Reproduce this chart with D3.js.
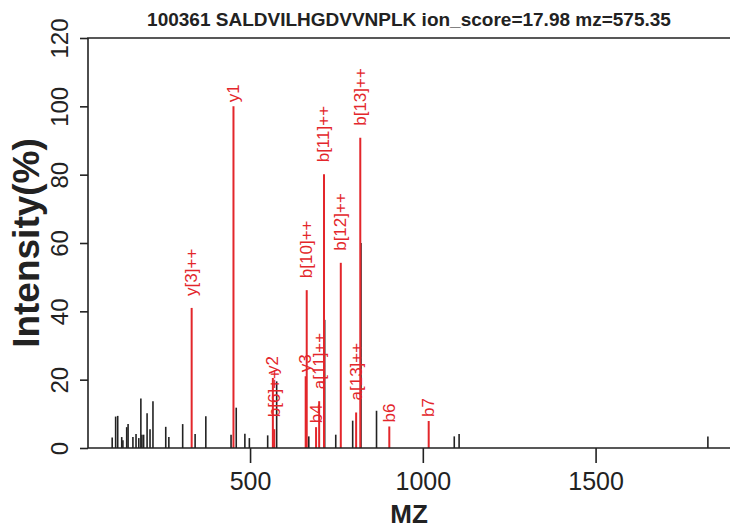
<!DOCTYPE html>
<meta charset="utf-8">
<title>Spectrum</title>
<style>
  body { margin: 0; background: #fff; }
  text { font-family: "Liberation Sans", Arial, sans-serif; fill: #222; }
</style>
<body>
<script src="https://d3js.org/d3.v7.min.js"></script>
<script>

var title = "100361 SALDVILHGDVVNPLK ion_score=17.98 mz=575.35";

// unmatched peaks (black)
var peakMz  = [101, 111, 117, 128.6, 132, 143, 147, 161, 170, 178, 184, 187, 192, 202, 210.5, 219,
               256, 265, 305, 341, 372, 445, 460, 485, 498, 551, 577, 670, 716, 748, 797, 821, 866,
               1091, 1105, 1825];
var peakInt = [3.1, 9.2, 9.4, 3.2, 2.3, 6.1, 7, 3.2, 4.1, 2.9, 14.5, 3.9, 3.9, 10.2, 5.5, 13.7,
               6.2, 3.2, 7, 4.1, 9.3, 3.9, 11.8, 4.2, 2.9, 3.7, 19.5, 3.4, 37.5, 3.9, 8.0, 60, 10.9,
               3.4, 4.1, 3.4];

// matched ions (red)
var ionLabel = ["y[3]++", "y1", "y2", "b[6]++", "y3", "b[10]++", "b4", "a[11]++", "b[11]++",
                "b[12]++", "a[13]++", "b[13]++", "b6", "b7"];
var ionMz    = [331, 452, 566, 570, 661, 664, 691, 700, 714, 762.6, 807, 819, 903, 1017];
var ionInt   = [41, 100, 20.5, 5.5, 21, 46.2, 6.1, 13.7, 80.1, 54.2, 10.4, 90.8, 6.3, 7.9];

var xTicks = [500, 1000, 1500];
var yTicks = [0, 20, 40, 60, 80, 100, 120];

var width = 730, height = 529;
var margin = {left: 88, right: 0, top: 38, bottom: 81};
var red = "#e3262b";

var svg = d3.select("body").append("svg")
    .attr("width", width)
    .attr("height", height);

var x = d3.scaleLinear().domain([31, 1889]).range([margin.left, width - margin.right]);
var y = d3.scaleLinear().domain([0, 120]).range([height - margin.bottom, margin.top]);

var peaks = peakMz.map(function(d, i) { return {mz: d, v: peakInt[i]}; });
var ions = ionMz.map(function(d, i) { return {mz: d, v: ionInt[i], label: ionLabel[i]}; });

svg.append("g").selectAll("line")
    .data(peaks)
    .enter().append("line")
    .attr("x1", function(d) { return x(d.mz); })
    .attr("x2", function(d) { return x(d.mz); })
    .attr("y1", y(0))
    .attr("y2", function(d) { return y(d.v); })
    .attr("stroke", "#222")
    .attr("stroke-width", 1.6);

svg.append("g").selectAll("line")
    .data(ions)
    .enter().append("line")
    .attr("x1", function(d) { return x(d.mz); })
    .attr("x2", function(d) { return x(d.mz); })
    .attr("y1", y(0))
    .attr("y2", function(d) { return y(d.v); })
    .attr("stroke", red)
    .attr("stroke-width", 2);

// labels sit above each matched peak, rotated
svg.append("g").selectAll("text")
    .data(ions)
    .enter().append("text")
    .attr("transform", function(d) {
      var gap = d.label.indexOf("++") > 0 ? 12 : 4;
      return "translate(" + x(d.mz) + "," + (y(d.v) - gap) + ") rotate(-90)";
    })
    .attr("dominant-baseline", "central")
    .style("fill", red)
    .style("font-size", "17px")
    .text(function(d) { return d.label; });

// box (right side falls off the picture)
svg.append("path")
    .attr("d", "M" + (width + 2) + "," + y(120) + "H" + x.range()[0] + "V" + y(0) + "H" + (width + 2))
    .attr("fill", "none")
    .attr("stroke", "#222")
    .attr("stroke-width", 1.6);

var xAxis = svg.append("g")
    .attr("transform", "translate(0," + y(0) + ")")
    .call(d3.axisBottom(x).tickValues(xTicks).tickFormat(d3.format("d")).tickSize(15).tickPadding(9));
xAxis.select(".domain").remove();
xAxis.selectAll(".tick line").attr("stroke", "#222").attr("stroke-width", 1.6);
xAxis.selectAll(".tick text").style("font-size", "25px").attr("font-family", null);

var yAxis = svg.append("g")
    .attr("transform", "translate(" + x.range()[0] + ",0)")
    .call(d3.axisLeft(y).tickValues(yTicks).tickSize(8));
yAxis.select(".domain").remove();
yAxis.selectAll(".tick line").attr("stroke", "#222").attr("stroke-width", 1.6);
yAxis.selectAll(".tick text")
    .attr("font-family", null)
    .style("font-size", "24px")
    .attr("text-anchor", "middle")
    .attr("dominant-baseline", "central")
    .attr("dy", null)
    .attr("x", 0)
    .attr("y", -29)
    .attr("transform", "rotate(-90)");

svg.append("text")
    .attr("x", (x.range()[0] + width) / 2)
    .attr("y", 26)
    .attr("text-anchor", "middle")
    .style("font-weight", "bold")
    .style("font-size", "19px")
    .text(title);

svg.append("text")
    .attr("x", (x.range()[0] + width) / 2)
    .attr("y", 523)
    .attr("text-anchor", "middle")
    .style("font-weight", "bold")
    .style("font-size", "26px")
    .text("MZ");

svg.append("text")
    .attr("transform", "translate(26," + (y(60)) + ") rotate(-90)")
    .attr("text-anchor", "middle")
    .attr("dominant-baseline", "central")
    .style("font-weight", "bold")
    .style("font-size", "37px")
    .text("Intensity(%)");

</script>
